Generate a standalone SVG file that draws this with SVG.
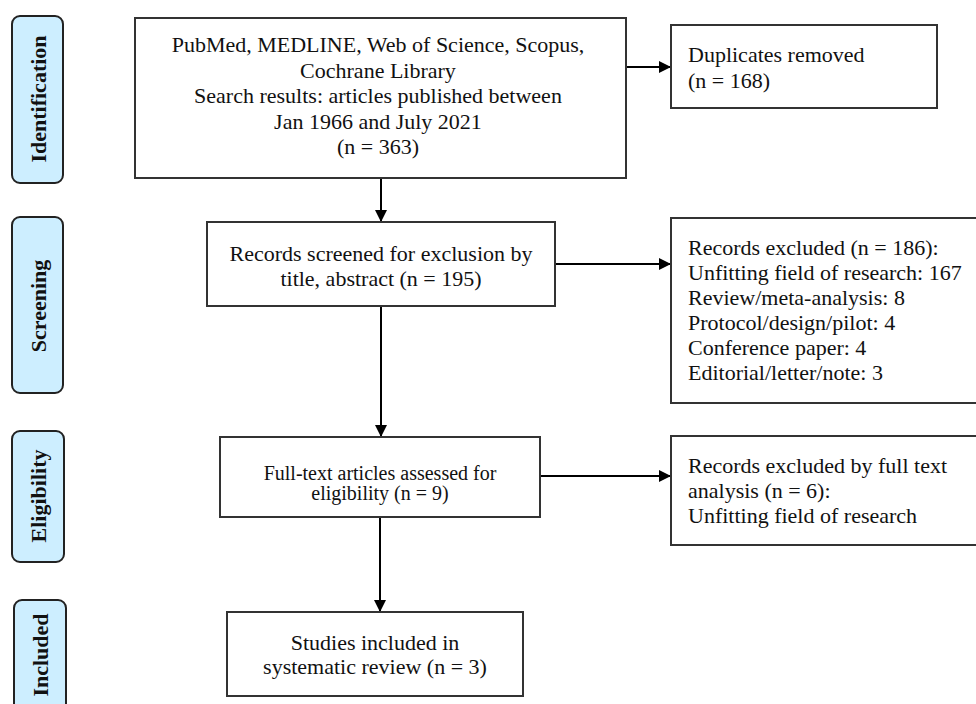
<svg xmlns="http://www.w3.org/2000/svg" width="976" height="704" viewBox="0 0 976 704">
<defs>
<marker id="ah" viewBox="0 0 12 12" refX="12" refY="6" markerWidth="12" markerHeight="12" markerUnits="userSpaceOnUse" orient="auto">
<path d="M0,0 L12,6 L0,12 Z" fill="#000"/>
</marker>
</defs>
<style>
.box{fill:#fff;stroke:#333;stroke-width:2}
.phase{fill:#cdeeff;stroke:#222;stroke-width:2}
.ph{font-family:"Liberation Serif","Times New Roman",serif;font-weight:bold;font-size:22px;fill:#111;text-anchor:middle;dominant-baseline:central}
.t{font-family:"Liberation Serif","Times New Roman",serif;font-size:22px;fill:#111}
.c{text-anchor:middle}
.t.s{font-size:20px}
.ln{stroke:#000;stroke-width:2;fill:none}
</style>
<rect width="976" height="704" fill="#fff"/>
<g id="phase-identification"><rect class="phase" x="12" y="16" width="51" height="167" rx="8"/><text class="ph" transform="translate(38,99) rotate(-90)">Identification</text></g>
<g id="phase-screening"><rect class="phase" x="12" y="217" width="51" height="176" rx="8"/><text class="ph" transform="translate(38,306) rotate(-90)">Screening</text></g>
<g id="phase-eligibility"><rect class="phase" x="12" y="431" width="52" height="131" rx="8"/><text class="ph" transform="translate(38,496) rotate(-90)">Eligibility</text></g>
<g id="phase-included"><rect class="phase" x="14" y="600" width="52" height="120" rx="8"/><text class="ph" transform="translate(40,655) rotate(-90)">Included</text></g>

<g id="connectors">
<line class="ln" x1="381" y1="178" x2="381" y2="222" marker-end="url(#ah)"/>
<line class="ln" x1="381" y1="306" x2="381" y2="437" marker-end="url(#ah)"/>
<line class="ln" x1="380" y1="517" x2="380" y2="612" marker-end="url(#ah)"/>
<line class="ln" x1="626" y1="67" x2="671" y2="67" marker-end="url(#ah)"/>
<line class="ln" x1="555" y1="264" x2="671" y2="264" marker-end="url(#ah)"/>
<line class="ln" x1="540" y1="476" x2="671" y2="476" marker-end="url(#ah)"/>
</g>

<g id="node-search"><rect class="box" x="135" y="18" width="491" height="160"/>
<text class="t c" x="378" y="52">PubMed, MEDLINE, Web of Science, Scopus,</text>
<text class="t c" x="378" y="78">Cochrane Library</text>
<text class="t c" x="378" y="103">Search results: articles published between</text>
<text class="t c" x="378" y="129">Jan 1966 and July 2021</text>
<text class="t c" x="378" y="154">(n = 363)</text>
</g>
<g id="node-duplicates"><rect class="box" x="671" y="25" width="266" height="83"/>
<text class="t" x="688" y="62">Duplicates removed</text>
<text class="t" x="688" y="88">(n = 168)</text>
</g>
<g id="node-screened"><rect class="box" x="207" y="222" width="348" height="84"/>
<text class="t c" x="381" y="261">Records screened for exclusion by</text>
<text class="t c" x="381" y="286">title, abstract (n = 195)</text>
</g>
<g id="node-excluded1"><rect class="box" x="671" y="218" width="310" height="185"/>
<text class="t" x="688" y="255">Records excluded (n = 186):</text>
<text class="t" x="688" y="280">Unfitting field of research: 167</text>
<text class="t" x="688" y="305">Review/meta-analysis: 8</text>
<text class="t" x="688" y="330">Protocol/design/pilot: 4</text>
<text class="t" x="688" y="355">Conference paper: 4</text>
<text class="t" x="688" y="380">Editorial/letter/note: 3</text>
</g>
<g id="node-fulltext"><rect class="box" x="220" y="437" width="320" height="80"/>
<text class="t s c" x="380" y="480">Full-text articles assessed for</text>
<text class="t s c" x="380" y="500">eligibility (n = 9)</text>
</g>
<g id="node-excluded2"><rect class="box" x="671" y="436" width="310" height="109"/>
<text class="t" x="688" y="473">Records excluded by full text</text>
<text class="t" x="688" y="498">analysis (n = 6):</text>
<text class="t" x="688" y="523">Unfitting field of research</text>
</g>
<g id="node-included"><rect class="box" x="227" y="612" width="296" height="84"/>
<text class="t c" x="375" y="650">Studies included in</text>
<text class="t c" x="375" y="674">systematic review (n = 3)</text>
</g>
</svg>
